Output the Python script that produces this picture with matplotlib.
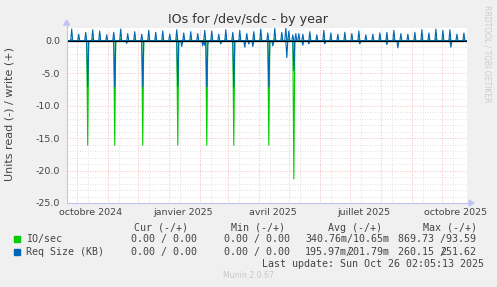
import matplotlib
matplotlib.use('Agg')
import matplotlib.pyplot as plt
import numpy as np
import pandas as pd
from matplotlib.patches import Rectangle, Polygon
from matplotlib.lines import Line2D

W, H = 497, 287

# ---------------- data ----------------
range_start = '2024-09-21'
range_end = '2025-10-26 02:05'
n_days = 401

# weekly write peaks (Req Size, +), first peak date then every 7 days
write_peak_start = '2024-09-26'
write_peaks = [1.8, 1.0, 1.3, 1.7, 1.5, 0.9, 1.3, 1.8, 1.1, 1.4, 1.0, 1.6, 1.3, 1.5,
               1.0, 1.7, 1.2, 1.4, 1.1, 1.6, 1.5, 1.0, 1.7, 1.3, 1.6, 1.1, 1.4, 1.8,
               1.2, 1.9, 1.3, 1.5, 1.1, 1.0, 1.4, 0.9, 1.6, 1.2, 1.0, 1.3, 1.1, 1.5,
               0.9, 1.0, 1.2, 1.3, 1.6, 1.1, 1.0, 1.3, 1.7, 1.2, 1.8, 1.6, 1.7, 1.0, 1.2]
extra_write_dates = ['2025-04-28', '2025-05-05', '2025-05-11']
extra_write_vals = [2.0, 0.9, 1.1]

# IO/sec write (+), small bumps on the weekly peaks
io_write_peaks = [0.2, 0.1, 0.2, 0.3, 0.2, 0.1, 0.2, 0.3, 0.1, 0.2, 0.1, 0.2, 0.2, 0.2,
                  0.1, 0.3, 0.2, 0.2, 0.1, 0.2, 0.2, 0.1, 0.3, 0.2, 0.2, 0.1, 0.2, 0.3,
                  0.2, 0.3, 0.2, 0.2, 0.1, 0.1, 0.2, 0.1, 0.2, 0.2, 0.1, 0.2, 0.1, 0.2,
                  0.1, 0.1, 0.2, 0.2, 0.2, 0.1, 0.1, 0.2, 0.3, 0.2, 0.3, 0.2, 0.3, 0.1, 0.2]

# Req Size read (-) dips
read_dip_dates = ['2024-11-20', '2025-01-14', '2025-02-04', '2025-02-06', '2025-02-09',
                  '2025-02-22', '2025-03-18', '2025-03-22', '2025-03-26', '2025-04-15',
                  '2025-04-29', '2025-05-15', '2025-05-21', '2025-06-06', '2025-07-11',
                  '2025-08-07', '2025-08-18', '2025-10-10']
read_dip_vals = [-0.4, -0.9, -0.8, -0.7, -0.5, -0.5, -1.0, -0.5, -0.9, -0.8,
                 -2.6, -0.7, -0.5, -0.5, -0.5, -0.6, -1.1, -1.0]

# big read spikes (IO/sec read and Req Size read on the same days)
spike_dates = ['2024-10-12', '2024-11-08', '2024-12-06', '2025-01-10',
               '2025-02-08', '2025-03-07', '2025-04-11', '2025-05-06']
io_read_spikes = [-16.1, -16.1, -16.1, -16.1, -16.1, -16.1, -16.1, -21.3]
req_read_spikes = [-7.1, -7.1, -7.1, -7.1, -7.1, -7.1, -7.1, -4.6]

y_ticks = [0, -5, -10, -15, -20, -25]
x_label_dates = ['2024-10-15', '2025-01-15', '2025-04-15', '2025-07-15', '2025-10-15']
x_labels = ['octobre 2024', 'janvier 2025', 'avril 2025', 'juillet 2025', 'octobre 2025']

legend_header = ['Cur (-/+)', 'Min (-/+)', 'Avg (-/+)', 'Max (-/+)']
legend_names = ['IO/sec', 'Req Size (KB)']
legend_cur = ['0.00 / 0.00', '0.00 / 0.00']
legend_min = ['0.00 / 0.00', '0.00 / 0.00']
# (text before the shared slash position, text drawn from the slash position)
legend_avg = [('340.76m/10.65m', ''), ('195.97m/', '201.79m')]
legend_max = [('869.73 /93.59', ''), ('260.15 /', '251.62')]

GREEN = '#00cc00'
BLUE = '#0066b3'

# ---------------- build series ----------------
days = pd.date_range(range_start, periods=n_days, freq='D')
idx = {d: i for i, d in enumerate(days)}

blue_write = np.zeros(n_days)
green_write = np.zeros(n_days)
for d, v, g in zip(pd.date_range(write_peak_start, periods=len(write_peaks), freq='7D'),
                   write_peaks, io_write_peaks):
    blue_write[idx[d]] = v
    green_write[idx[d]] = g
for d, v in zip(pd.to_datetime(extra_write_dates), extra_write_vals):
    blue_write[idx[d]] = v

blue_read = np.zeros(n_days)
green_read = np.zeros(n_days)
for d, v in zip(pd.to_datetime(read_dip_dates), read_dip_vals):
    blue_read[idx[d]] = v
for d, g, b in zip(pd.to_datetime(spike_dates), io_read_spikes, req_read_spikes):
    green_read[idx[d]] = g
    blue_read[idx[d]] = b

# ---------------- figure ----------------
fig = plt.figure(figsize=(W / 100, H / 100), dpi=100)
fig.patch.set_facecolor('#f0f0f0')


def fx(x):
    return x / W


def fy(y):
    return 1 - y / H


L, R, T, B = 66.7, 467.0, 28.0, 203.0
ax = fig.add_axes([fx(L), fy(B), fx(R - L), (B - T) / H])
ax.set_facecolor('white')
for s in ax.spines.values():
    s.set_visible(False)

x0 = pd.Timestamp(range_start)
x1 = pd.Timestamp(range_end)
ax.set_xlim(x0, x1)
ax.set_ylim(-25, 1.96)

# grid
for v in range(-25, 2):
    if v % 5 == 0:
        ax.axhline(v, color='#f0a8a8', lw=0.6, ls=(0, (1, 2)), zorder=1)
    else:
        ax.axhline(v, color='#d8d8d8', lw=0.6, ls=(0, (1, 2)), zorder=1)
for m in pd.date_range('2024-10-01', '2025-10-01', freq='MS'):
    ax.axvline(m, color='#f0a8a8', lw=0.6, ls=(0, (1, 2)), zorder=1)
for m in pd.date_range('2024-09-01', '2025-10-01', freq='MS'):
    d = m + pd.Timedelta(days=11)
    if x0 < d < x1:
        ax.axvline(d, color='#d8d8d8', lw=0.6, ls=(0, (1, 2)), zorder=1)

# data
ax.plot(days, green_read, color=GREEN, lw=0.8, zorder=3)
ax.plot(days, green_write, color=GREEN, lw=0.8, zorder=3)
ax.plot(days, blue_read, color=BLUE, lw=0.8, zorder=4)
ax.plot(days, blue_write, color=BLUE, lw=0.8, zorder=4)
ax.axhline(0, color='black', lw=0.9, zorder=5)

# ticks
ax.set_yticks(y_ticks)
ax.set_yticklabels(['%.1f' % v for v in y_ticks])
ax.set_xticks(pd.to_datetime(x_label_dates))
ax.set_xticklabels(x_labels)
ax.tick_params(axis='both', length=0, labelsize=6.8, colors='#444444')
ax.tick_params(axis='y', pad=4.8)
ax.tick_params(axis='x', pad=3.5)

# axis lines with arrows
acol = '#c0c4f4'
fig.add_artist(Line2D([fx(L), fx(L)], [fy(B), fy(24)], color=acol, lw=0.8))
fig.add_artist(Line2D([fx(L), fx(472)], [fy(B), fy(B)], color=acol, lw=0.8))
fig.add_artist(Polygon([[fx(L - 3), fy(25)], [fx(L + 3), fy(25)], [fx(L), fy(20)]],
                       closed=True, color=acol, transform=fig.transFigure))
fig.add_artist(Polygon([[fx(469), fy(B - 3)], [fx(469), fy(B + 3)], [fx(474), fy(B)]],
                       closed=True, color=acol, transform=fig.transFigure))

# titles
fig.text(fx(248.5), fy(20), 'IOs for /dev/sdc - by year', ha='center', va='center',
         fontsize=9.1, color='#333333')
fig.text(fx(10), fy(114), 'Units read (-) / write (+)', ha='center', va='center',
         rotation=90, fontsize=8.0, color='#444444')
fig.text(fx(487.5), fy(5), 'RRDTOOL / TOBI OETIKER', ha='center', va='top',
         rotation=270, fontsize=5.5, color='#cccccc')

# legend
CW = 6.0
mono = dict(family='DejaVu Sans Mono', fontsize=7.2, color='#444444', va='center', ha='left')
for xx, t in zip([134, 231, 328, 423], legend_header):
    fig.text(fx(xx), fy(227.7), t, **mono)
rows_y = [239.3, 251.7]
for i, (name, col) in enumerate(zip(legend_names, [GREEN, BLUE])):
    y = rows_y[i]
    fig.add_artist(Rectangle((fx(14), fy(y + 3)), 6 / W, 6 / H, color=col,
                             transform=fig.transFigure))
    fig.text(fx(26), fy(y), name, **mono)
    fig.text(fx(131), fy(y), legend_cur[i], **mono)
    fig.text(fx(224), fy(y), legend_min[i], **mono)
    for start, (p1, p2) in ((305, legend_avg[i]), (398, legend_max[i])):
        fig.text(fx(start), fy(y), p1, **mono)
        if p2:
            fig.text(fx(start + CW * (len(p1) - 1)), fy(y), p2, **mono)
fig.text(fx(262), fy(263.7), 'Last update: Sun Oct 26 02:05:13 2025', **mono)
fig.text(fx(248), fy(276), 'Munin 2.0.67', ha='center', va='center', fontsize=5.6,
         color='#c8c8c8')

fig.savefig('out.png', dpi=100, facecolor=fig.get_facecolor())
